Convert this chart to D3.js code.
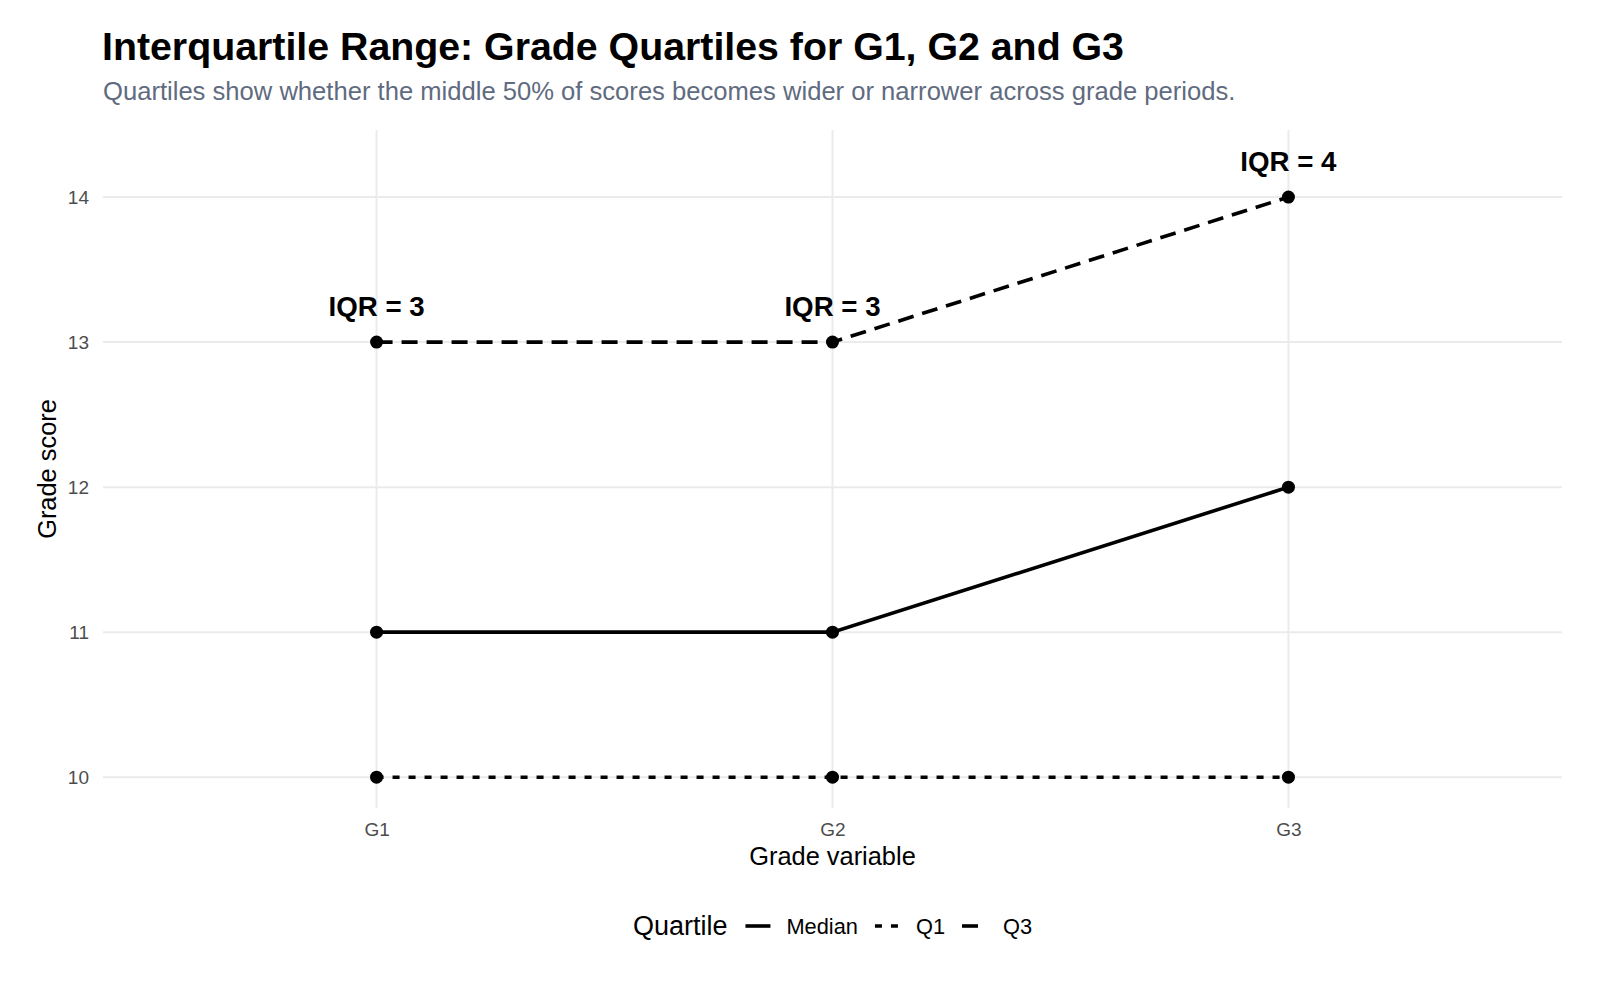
<!DOCTYPE html>
<html>
<head>
<meta charset="utf-8">
<script src="https://cdn.jsdelivr.net/npm/d3@7"></script>
<style>
  body { margin: 0; background: #fff; }
  text { font-family: "Liberation Sans", Arial, sans-serif; }
</style>
</head>
<body>
<div id="chart"></div>
<script>
// grade periods and quartile values
var grades = ["G1", "G2", "G3"];
var q1 = [10, 10, 10];
var median = [11, 11, 12];
var q3 = [13, 13, 14];
var iqr = [3, 3, 4];
var yTicks = [10, 11, 12, 13, 14];
var labelOffset = 0.25;

var series = [
    {name: "Median", values: median, dash: null},
    {name: "Q1", values: q1, dash: "7,9"},
    {name: "Q3", values: q3, dash: "16,9"}];

var setWidth = 1600;
var setHeight = 984;
var panel = {left: 103, right: 1562, top: 130, bottom: 808};

var svg = d3.select("#chart")
    .append("svg")
    .attr("width", setWidth)
    .attr("height", setHeight);

// x axis: discrete, ggplot style expansion of 0.6
var x = d3.scalePoint()
    .domain(grades)
    .range([panel.left, panel.right])
    .padding(0.6);

// y axis: continuous incl. the label positions, 5% expansion
var yMin = d3.min(q1);
var yMax = d3.max(q3) + labelOffset;
var pad = (yMax - yMin) * 0.05;
var y = d3.scaleLinear()
    .domain([yMin - pad, yMax + pad])
    .range([panel.bottom, panel.top]);

// grid
svg.append("g")
    .selectAll("line")
    .data(yTicks)
    .join("line")
        .attr("x1", panel.left)
        .attr("x2", panel.right)
        .attr("y1", d => y(d))
        .attr("y2", d => y(d))
        .attr("stroke", "#ebebeb")
        .attr("stroke-width", 2);

svg.append("g")
    .selectAll("line")
    .data(grades)
    .join("line")
        .attr("x1", d => x(d))
        .attr("x2", d => x(d))
        .attr("y1", panel.top)
        .attr("y2", panel.bottom)
        .attr("stroke", "#ebebeb")
        .attr("stroke-width", 2);

// y axis (no domain line, no ticks)
var yAxis = svg.append("g")
    .attr("transform", "translate(" + (panel.left - 14) + ",0)")
    .call(d3.axisLeft(y).tickValues(yTicks).tickFormat(d3.format("d")).tickSize(0).tickPadding(0));
yAxis.select(".domain").remove();
yAxis.selectAll("text")
    .attr("fill", "#4d4d4d")
    .style("font-size", "19px")
    .style("font-family", "Liberation Sans, Arial, sans-serif");

// x axis
var xAxis = svg.append("g")
    .attr("transform", "translate(0," + (panel.bottom + 14) + ")")
    .call(d3.axisBottom(x).tickSize(0).tickPadding(0));
xAxis.select(".domain").remove();
xAxis.selectAll("text")
    .attr("fill", "#4d4d4d")
    .attr("dy", "0.71em")
    .style("font-size", "19px")
    .style("font-family", "Liberation Sans, Arial, sans-serif");

// axis titles
svg.append("text")
    .attr("x", (panel.left + panel.right) / 2)
    .attr("y", 865)
    .attr("text-anchor", "middle")
    .style("font-size", "25.4px")
    .text("Grade variable");

svg.append("text")
    .attr("transform", "translate(56," + ((panel.top + panel.bottom) / 2) + ") rotate(-90)")
    .attr("text-anchor", "middle")
    .style("font-size", "25.4px")
    .text("Grade score");

// lines
var line = d3.line()
    .x((d, i) => x(grades[i]))
    .y(d => y(d));

svg.append("g")
    .selectAll("path")
    .data(series)
    .join("path")
        .attr("d", d => line(d.values))
        .attr("fill", "none")
        .attr("stroke", "#000")
        .attr("stroke-width", 3.6)
        .attr("stroke-dasharray", d => d.dash);

// points
series.forEach(function (s) {
    svg.append("g")
        .selectAll("circle")
        .data(s.values)
        .join("circle")
            .attr("cx", (d, i) => x(grades[i]))
            .attr("cy", d => y(d))
            .attr("r", 6.5)
            .attr("fill", "#000");
});

// IQR labels above Q3
svg.append("g")
    .selectAll("text")
    .data(iqr)
    .join("text")
        .attr("x", (d, i) => x(grades[i]))
        .attr("y", (d, i) => y(q3[i] + labelOffset))
        .attr("dy", "0.35em")
        .attr("text-anchor", "middle")
        .style("font-size", "27.7px")
        .style("font-weight", "bold")
        .text(d => "IQR = " + d);

// title + subtitle
svg.append("text")
    .attr("x", 102)
    .attr("y", 60)
    .style("font-size", "39.3px")
    .style("font-weight", "bold")
    .text("Interquartile Range: Grade Quartiles for G1, G2 and G3");

svg.append("text")
    .attr("x", 103)
    .attr("y", 100)
    .attr("fill", "#5f6b80")
    .style("font-size", "25.6px")
    .text("Quartiles show whether the middle 50% of scores becomes wider or narrower across grade periods.");

// legend, centred under the panel
var legend = svg.append("g");
var legY = 926;
var keyW = 25;

var legTitle = legend.append("text")
    .attr("y", legY)
    .attr("dy", "0.35em")
    .style("font-size", "27px")
    .text("Quartile");

var cursor = legTitle.node().getComputedTextLength() + 18;
series.forEach(function (s, i) {
    legend.append("line")
        .attr("x1", cursor)
        .attr("x2", cursor + keyW)
        .attr("y1", legY)
        .attr("y2", legY)
        .attr("stroke", "#000")
        .attr("stroke-width", 3.6)
        .attr("stroke-dasharray", s.dash);
    cursor += keyW + 16;
    var t = legend.append("text")
        .attr("x", cursor)
        .attr("y", legY)
        .attr("dy", "0.35em")
        .style("font-size", "21.8px")
        .text(s.name);
    cursor += t.node().getComputedTextLength();
    if (i < series.length - 1) cursor += 17;
});
legend.attr("transform", "translate(" + ((panel.left + panel.right) / 2 - cursor / 2) + ",0)");
</script>
</body>
</html>
